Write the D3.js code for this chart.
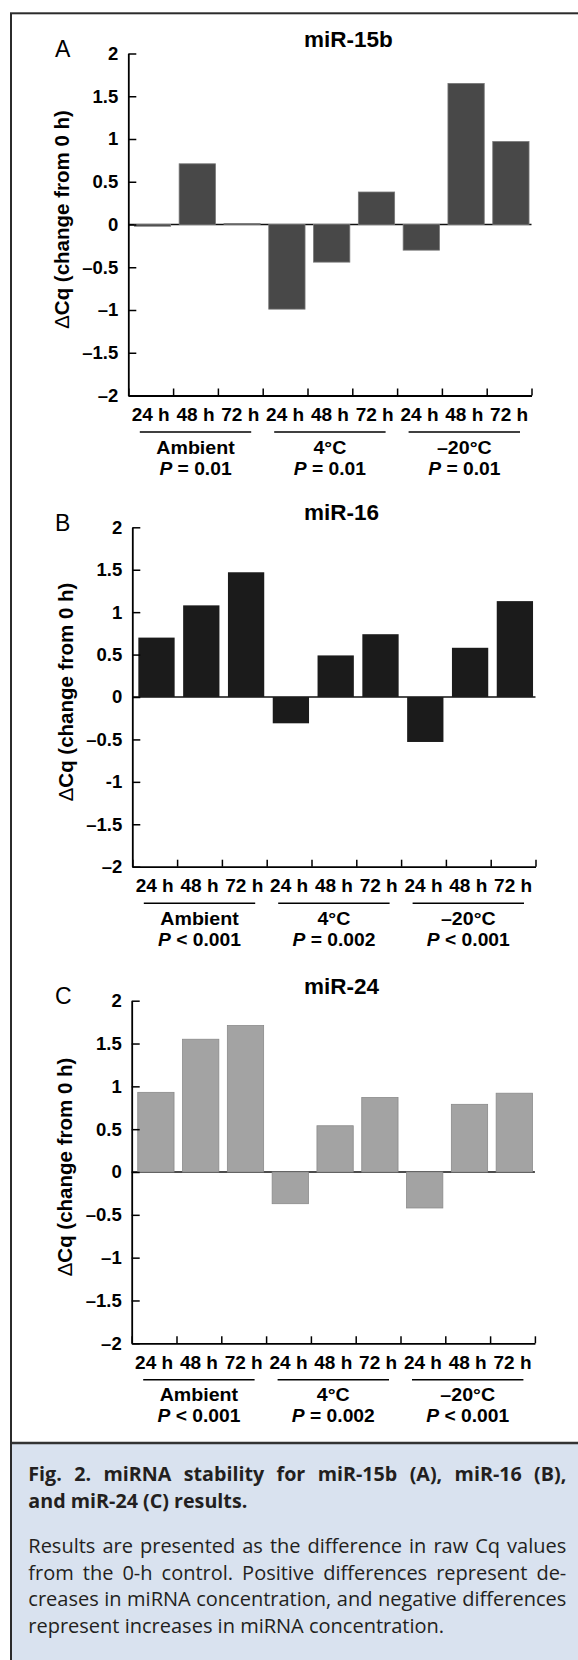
<!DOCTYPE html>
<html>
<head>
<meta charset="utf-8">
<script src="https://cdn.jsdelivr.net/npm/d3@7/dist/d3.min.js"></script>
<style>
  body { margin: 0; background: #fff; }
  svg { display: block; }
</style>
</head>
<body>
<svg id="fig" width="578" height="1660"></svg>
<script>
// ---- data ----
var hours = ['24 h', '48 h', '72 h'];
var groups = ['Ambient', '4°C', '–20°C'];
var categories = ['amb-24', 'amb-48', 'amb-72', 'c4-24', 'c4-48', 'c4-72', 'm20-24', 'm20-48', 'm20-72'];

var mir15b = [-0.02, 0.71, 0.01, -0.99, -0.44, 0.38, -0.30, 1.65, 0.97];
var mir16 = [0.70, 1.08, 1.47, -0.31, 0.49, 0.74, -0.53, 0.58, 1.13];
var mir24 = [0.93, 1.55, 1.71, -0.37, 0.54, 0.87, -0.42, 0.79, 0.92];

var pA = ['= 0.01', '= 0.01', '= 0.01'];
var pB = ['< 0.001', '= 0.002', '< 0.001'];
var pC = ['< 0.001', '= 0.002', '< 0.001'];

var yTicks = [2, 1.5, 1, 0.5, 0, -0.5, -1, -1.5, -2];
var yTickLabelsA = ['2', '1.5', '1', '0.5', '0', '–0.5', '–1', '–1.5', '–2'];
var yTickLabelsB = ['2', '1.5', '1', '0.5', '0', '–0.5', '-1', '–1.5', '–2'];

var captionTitle = [
  'Fig. 2. miRNA stability for miR-15b (A), miR-16 (B),',
  'and miR-24 (C) results.'
];
var captionBody = [
  'Results are presented as the difference in raw Cq values',
  'from the 0-h control. Positive differences represent de-',
  'creases in miRNA concentration, and negative differences',
  'represent increases in miRNA concentration.'
];

var svg = d3.select('#fig');
var chartFont = '"Liberation Sans", Arial, Helvetica, sans-serif';
var captionFont = '"Open Sans", "Noto Sans", sans-serif';

// caption panel background, drawn first
svg.append('rect')
  .attr('x', 11).attr('y', 1443)
  .attr('width', 600).attr('height', 240)
  .attr('fill', '#d9e2ef');
svg.append('line')
  .attr('x1', 11).attr('x2', 590)
  .attr('y1', 1443).attr('y2', 1443)
  .attr('stroke', '#333').attr('stroke-width', 2.3);

var panels = [
  { letter: 'A', title: 'miR-15b', values: mir15b, pvals: pA, tickLabels: yTickLabelsA,
    fill: '#484848', stroke: '#777', x0: 128.3, x1: 531.5, yTop: 53.5, yBot: 395.5 },
  { letter: 'B', title: 'miR-16', values: mir16, pvals: pB, tickLabels: yTickLabelsB,
    fill: '#1b1b1b', stroke: 'none', x0: 132.3, x1: 535.5, yTop: 527.3, yBot: 866.7 },
  { letter: 'C', title: 'miR-24', values: mir24, pvals: pC, tickLabels: yTickLabelsA,
    fill: '#a3a3a3', stroke: '#8a8a8a', x0: 131.7, x1: 534.9, yTop: 1000.7, yBot: 1343.3 }
];

panels.forEach(drawPanel);

function drawPanel(p) {
  var g = svg.append('g').attr('font-family', chartFont);

  var x = d3.scaleBand().domain(categories).range([p.x0, p.x1]);
  var xEdge = d3.scaleLinear().domain([0, categories.length]).range([p.x0, p.x1]);
  var xg = d3.scaleBand().domain(groups).range([p.x0, p.x1]);
  var y = d3.scaleLinear().domain([-2, 2]).range([p.yBot, p.yTop]);

  // zero line behind the bars
  g.append('line')
    .attr('x1', p.x0).attr('x2', p.x1)
    .attr('y1', y(0)).attr('y2', y(0))
    .attr('stroke', '#111').attr('stroke-width', 1.6);

  g.selectAll('rect.bar')
    .data(p.values)
    .enter()
    .append('rect')
    .attr('class', 'bar')
    .attr('x', (d, i) => x(categories[i]) + x.bandwidth() * 0.135)
    .attr('width', x.bandwidth() * 0.81)
    .attr('y', (d) => y(Math.max(0, d)))
    .attr('height', (d) => Math.abs(y(d) - y(0)))
    .attr('fill', p.fill)
    .attr('stroke', p.stroke)
    .attr('stroke-width', 0.8);

  // y axis, ticks point inward
  var ya = g.append('g')
    .attr('transform', 'translate(' + p.x0 + ',0)')
    .call(d3.axisLeft(y).tickValues(yTicks).tickSize(-8).tickSizeOuter(0)
      .tickFormat((d, i) => p.tickLabels[i]));
  ya.attr('font-size', null).attr('font-family', null);
  ya.select('.domain').attr('stroke', '#000').attr('stroke-width', 1.8);
  ya.selectAll('.tick line').attr('stroke', '#000').attr('stroke-width', 1.5);
  ya.selectAll('.tick text')
    .attr('x', -10)
    .attr('font-size', 18.5)
    .attr('font-weight', 'bold')
    .attr('fill', '#000');

  // x axis at the bottom, ticks at category edges
  var xa = g.append('g')
    .attr('transform', 'translate(0,' + p.yBot + ')')
    .call(d3.axisBottom(xEdge).tickValues(d3.range(categories.length + 1)).tickSize(-7).tickSizeOuter(0).tickFormat(''));
  xa.select('.domain').attr('stroke', '#000').attr('stroke-width', 1.8);
  xa.selectAll('.tick line').attr('stroke', '#000').attr('stroke-width', 1.5);

  g.selectAll('text.hour')
    .data(categories)
    .enter()
    .append('text')
    .attr('class', 'hour')
    .attr('x', (d) => x(d) + x.bandwidth() / 2)
    .attr('y', p.yBot + 25.5)
    .attr('text-anchor', 'middle')
    .attr('font-size', 19)
    .attr('font-weight', 'bold')
    .text((d, i) => hours[i % 3]);

  // group underline + condition + P value
  g.selectAll('line.under')
    .data(groups)
    .enter()
    .append('line')
    .attr('x1', (d) => xg(d) + 11.5)
    .attr('x2', (d) => xg(d) + xg.bandwidth() - 11.5)
    .attr('y1', p.yBot + 36.5).attr('y2', p.yBot + 36.5)
    .attr('stroke', '#000').attr('stroke-width', 1.6);

  g.selectAll('text.group')
    .data(groups)
    .enter()
    .append('text')
    .attr('class', 'group')
    .attr('transform', (d) => 'translate(' + (xg(d) + xg.bandwidth() / 2) + ',' + (p.yBot + 58) + ') scale(1.06,1)')
    .attr('text-anchor', 'middle')
    .attr('font-size', 18.5)
    .attr('font-weight', 'bold')
    .text((d) => d);

  var pt = g.selectAll('text.pval')
    .data(groups)
    .enter()
    .append('text')
    .attr('class', 'pval')
    .attr('transform', (d) => 'translate(' + (xg(d) + xg.bandwidth() / 2) + ',' + (p.yBot + 79) + ') scale(1.04,1)')
    .attr('text-anchor', 'middle')
    .attr('font-size', 18.5)
    .attr('font-weight', 'bold');
  pt.append('tspan').attr('font-style', 'italic').text('P');
  pt.append('tspan').text((d, i) => ' ' + p.pvals[i]);

  // panel title and letter
  g.append('text')
    .attr('x', 304)
    .attr('y', p.yTop - 7)
    .attr('font-size', 22.5)
    .attr('font-weight', 'bold')
    .text(p.title);

  g.append('text')
    .attr('x', 55)
    .attr('y', p.yTop + 3.5)
    .attr('font-size', 23)
    .text(p.letter);

  // y axis label
  var yl = g.append('text')
    .attr('transform', 'translate(' + (p.x0 - 59.7) + ',' + ((p.yTop + p.yBot) / 2 - 5) + ') rotate(-90)')
    .attr('text-anchor', 'middle')
    .attr('font-size', 20.5)
    .attr('font-weight', 'bold');
  yl.append('tspan').attr('font-weight', 'normal').text('Δ');
  yl.append('tspan').text('Cq (change from 0 h)');
}

// caption, each line laid out word by word
function setLine(text, x, y, width, justify, size, weight) {
  var words = text.split(' ');
  var nodes = words.map(function (w) {
    return svg.append('text')
      .attr('y', y)
      .attr('font-family', captionFont)
      .attr('font-size', size)
      .attr('font-weight', weight)
      .attr('fill', '#231f20')
      .text(w);
  });
  var widths = nodes.map((n) => n.node().getComputedTextLength());
  var total = d3.sum(widths);
  var space = size * 0.26;
  var gap = justify && words.length > 1 ? (width - total) / (words.length - 1) : space;
  var cx = x;
  nodes.forEach(function (n, i) {
    n.attr('x', cx);
    cx += widths[i] + gap;
  });
}

var capLeft = 28.3;
var capWidth = 538;
var titleY = [1481, 1508];
var bodyY = [1553, 1579.7, 1606.4, 1633];

captionTitle.forEach(function (line, i) {
  setLine(line, capLeft, titleY[i], capWidth, i < captionTitle.length - 1, 19.7, 700);
});
captionBody.forEach(function (line, i) {
  setLine(line, capLeft, bodyY[i], capWidth, i < captionBody.length - 1, 20, 400);
});

// outer frame (right edge runs off the page)
svg.append('rect')
  .attr('x', 11).attr('y', 13.3)
  .attr('width', 620).attr('height', 1700)
  .attr('fill', 'none')
  .attr('stroke', '#2b2b2b')
  .attr('stroke-width', 2);
</script>
</body>
</html>
